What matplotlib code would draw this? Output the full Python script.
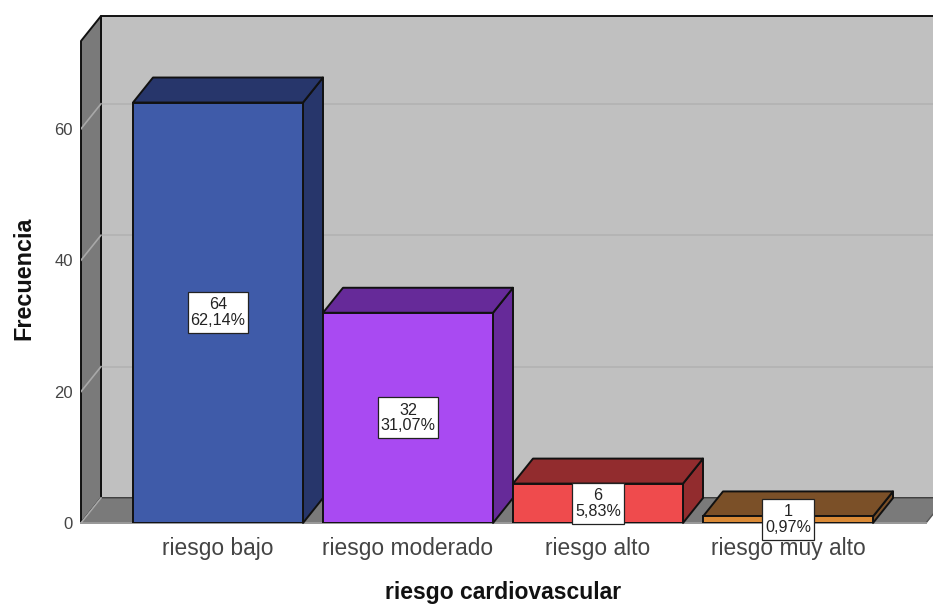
import matplotlib
matplotlib.use("Agg")
import matplotlib.pyplot as plt
from matplotlib.patches import Polygon, Rectangle

plt.rcParams['font.family'] = ['Liberation Sans', 'DejaVu Sans']

categorias = ["riesgo bajo", "riesgo moderado", "riesgo alto", "riesgo muy alto"]
frecuencias = [64, 32, 6, 1]
porcentajes = ["62,14%", "31,07%", "5,83%", "0,97%"]
marcas_y = [0, 20, 40, 60]

color_frente = ["#3f5ba9", "#a94af2", "#ef4b4d", "#da8a36"]
color_oscuro = ["#27366b", "#662a99", "#922c2e", "#7b5028"]

# pixel scale of the original picture
px_cat = 190.0
px_val = 6.57
ancho = 170 / px_cat
prof_x = 20 / px_cat
prof_y = 25 / px_val
caja_w = [60 / px_cat, 60 / px_cat, 52 / px_cat, 52 / px_cat]
caja_h = 41 / px_val

fig = plt.figure(figsize=(9.33, 6.04), dpi=100)
ax = fig.add_axes([81 / 933, 81 / 604, 852 / 933, 523 / 604])
ax.set_xlim((81 - 218) / px_cat, (933 - 218) / px_cat)
ax.set_ylim(0, 523 / px_val)
for s in ax.spines.values():
    s.set_visible(False)

x0 = ax.get_xlim()[0]
x1 = ax.get_xlim()[1]
y_tope = 482 / px_val
x_fin = (926 - 218) / px_cat


def poli(puntos, color, z, borde="#111111", lw=1.4):
    ax.add_patch(Polygon(puntos, closed=True, facecolor=color, edgecolor=borde,
                         linewidth=lw, zorder=z, joinstyle="round", clip_on=False))


# walls and floor
poli([(x0 + prof_x, prof_y), (x1 + 1, prof_y), (x1 + 1, y_tope + prof_y), (x0 + prof_x, y_tope + prof_y)],
     "#c0c0c0", 1)
poli([(x0, 0), (x0 + prof_x, prof_y), (x0 + prof_x, y_tope + prof_y), (x0, y_tope)], "#7a7a7a", 1.1)
poli([(x0, 0), (x_fin, 0), (x_fin + prof_x, prof_y), (x0 + prof_x, prof_y)], "#7a7a7a", 1.2,
     borde="#555555", lw=1.0)
ax.plot([x0, x_fin], [0, 0], color="#9a9a9a", lw=1.4, zorder=1.3, clip_on=False)

# grid on the wall and the back
for v in marcas_y:
    ax.plot([x0, x0 + prof_x], [v, v + prof_y], color="#a8a8a8", lw=1.2, zorder=1.4)
    if v > 0:
        ax.plot([x0 + prof_x, x1], [v + prof_y, v + prof_y], color="#b4b4b4", lw=1.4, zorder=1.05)

# bars
pos = list(range(len(categorias)))
for i, v in enumerate(frecuencias):
    izq = pos[i] - ancho / 2
    der = pos[i] + ancho / 2
    poli([(der, 0), (der + prof_x, prof_y), (der + prof_x, v + prof_y), (der, v)], color_oscuro[i], 2)
    poli([(izq, v), (der, v), (der + prof_x, v + prof_y), (izq + prof_x, v + prof_y)], color_oscuro[i], 2)
    ax.bar(pos[i], v, width=ancho, color=color_frente[i], edgecolor="#111111", linewidth=1.4, zorder=2.1)

# value boxes
for i, v in enumerate(frecuencias):
    ax.add_patch(Rectangle((pos[i] - caja_w[i] / 2, v / 2 - caja_h / 2), caja_w[i], caja_h, facecolor="white",
                           edgecolor="#222222", linewidth=0.9, zorder=9, clip_on=False))
    ax.annotate(f"{v}\n{porcentajes[i]}", (pos[i], v / 2), ha="center", va="center",
                fontsize=11.6, color="#222222", linespacing=1.05, zorder=10, annotation_clip=False)

ax.set_xticks(pos)
ax.set_xticklabels(categorias, fontsize=16.4, color="#444444")
ax.set_yticks(marcas_y)
ax.set_yticklabels([str(v) for v in marcas_y], fontsize=12, color="#444444")
ax.tick_params(axis="both", length=0)
ax.tick_params(axis="x", pad=10)
ax.tick_params(axis="y", pad=6)

fig.text(503 / 933, 1 - 592 / 604, "riesgo cardiovascular", fontsize=16.5, fontweight="bold",
         ha="center", va="center", color="#111111")
fig.text(24 / 933, 1 - 278 / 604, "Frecuencia", fontsize=16.8, fontweight="bold", rotation=90,
         ha="center", va="center", color="#111111")

fig.savefig("out.png", dpi=100)
